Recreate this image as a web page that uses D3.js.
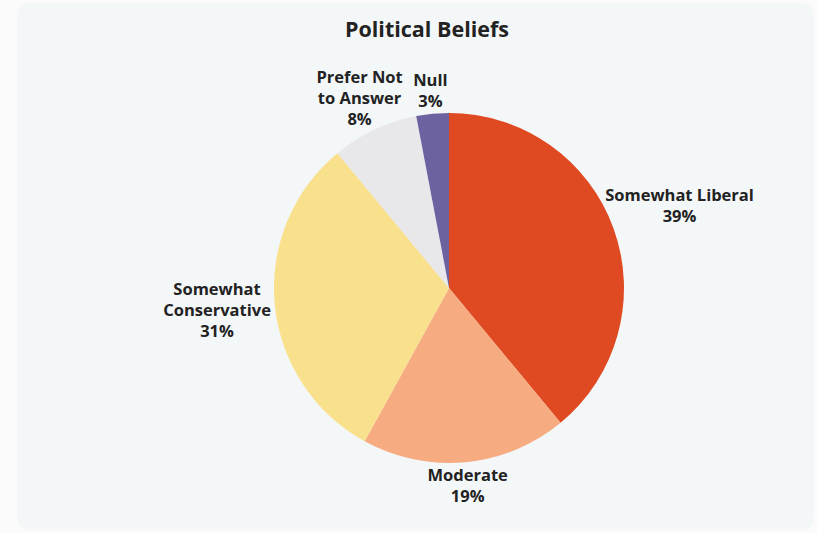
<!DOCTYPE html>
<html>
<head>
<meta charset="utf-8">
<script src="https://cdn.jsdelivr.net/npm/d3@7"></script>
<style>
  html, body { margin: 0; padding: 0; background: #fbfbfb; }
  svg { display: block; }
  text { font-family: "Open Sans", sans-serif; fill: #222; }
</style>
</head>
<body>
<svg id="chart" width="817" height="533"></svg>
<script>
const categories = ["Somewhat Liberal", "Moderate", "Somewhat Conservative", "Prefer Not to Answer", "Null"];
const values = [39, 19, 31, 8, 3];
const colors = ["#e04a23", "#f6ab80", "#f8e08c", "#e8e8ea", "#6c629f"];
// how each label is broken into lines
const labelLines = [
    ["Somewhat Liberal"],
    ["Moderate"],
    ["Somewhat", "Conservative"],
    ["Prefer Not", "to Answer"],
    ["Null"]
];

(function () {
    const svg = d3.select("#chart");
    const width = 817, height = 533;

    // card background
    svg.append("rect")
        .attr("x", 17).attr("y", 3)
        .attr("width", width - 20).attr("height", height - 6)
        .attr("rx", 12)
        .style("fill", "#f4f7f8");

    svg.append("text")
        .attr("x", 427).attr("y", 37)
        .attr("text-anchor", "middle")
        .style("font-size", "21.5px")
        .style("font-weight", 700)
        .text("Political Beliefs");

    const cx = 449, cy = 288, r = 175;
    const data = categories.map((c, i) => ({name: c, value: values[i], color: colors[i], lines: labelLines[i]}));

    const pie = d3.pie().sort(null).value(d => d.value);
    const arc = d3.arc().innerRadius(0).outerRadius(r);
    const arcs = pie(data);

    const g = svg.append("g").attr("transform", `translate(${cx},${cy})`);

    g.selectAll("path")
        .data(arcs)
        .enter()
        .append("path")
        .attr("d", arc)
        .style("fill", d => d.data.color);

    const lineH = 21, gap = 3;
    const total = d3.sum(values);

    arcs.forEach(a => {
        const lines = a.data.lines.concat([Math.round(a.data.value / total * 100) + "%"]);
        const lbl = g.append("text")
            .attr("text-anchor", "middle")
            .style("font-size", "16.5px")
            .style("font-weight", 700);
        const spans = lines.map((t, i) => lbl.append("tspan").text(t));
        const widths = spans.map(s => s.node().getComputedTextLength());
        const n = lines.length;
        const mid = (a.startAngle + a.endAngle) / 2;
        const ux = Math.sin(mid), uy = -Math.cos(mid);

        // push label out along the mid angle until every line box clears the pie
        let t = r * 0.6;
        function clear(t) {
            const px = ux * t, py = uy * t;
            for (let i = 0; i < n; i++) {
                const ly = py + (i - (n - 1) / 2) * lineH;
                const x0 = px - widths[i] / 2, x1 = px + widths[i] / 2;
                const y0 = ly - 8, y1 = ly + 8;
                const nx = Math.max(x0, Math.min(0, x1));
                const ny = Math.max(y0, Math.min(0, y1));
                if (Math.hypot(nx, ny) < r + gap) return false;
            }
            return true;
        }
        while (!clear(t) && t < 400) t += 1;
        const px = ux * t, py = uy * t;
        spans.forEach((s, i) => {
            s.attr("x", px)
             .attr("y", py + (i - (n - 1) / 2) * lineH + 6);
        });
    });
}());
</script>
</body>
</html>
